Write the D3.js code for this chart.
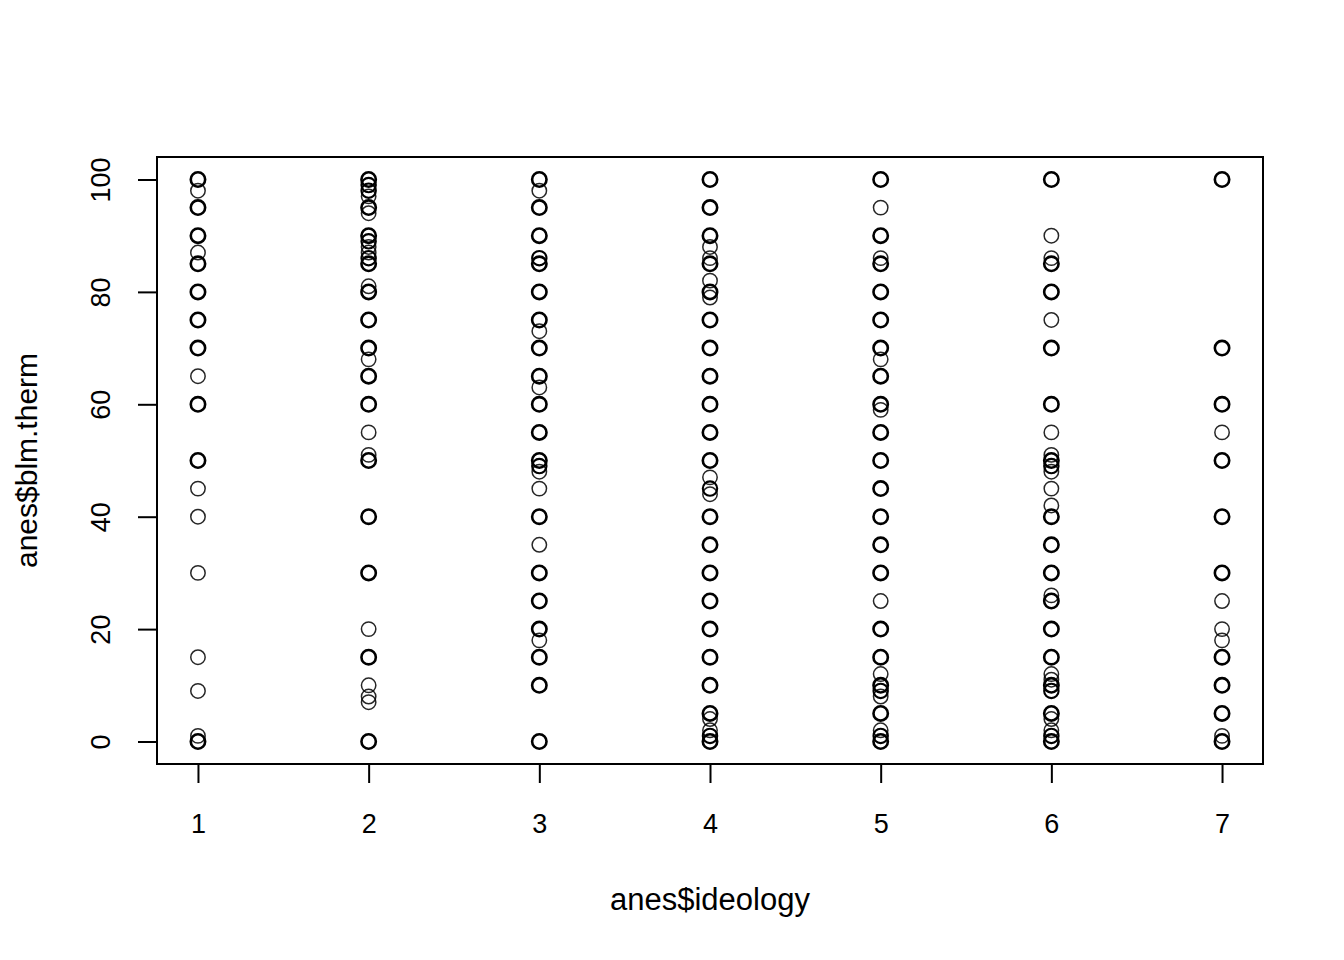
<!DOCTYPE html>
<html>
<head>
<meta charset="utf-8">
<script src="https://cdn.jsdelivr.net/npm/d3@7"></script>
<style>
  body { margin: 0; background: #fff; }
  text { font-family: "Liberation Sans", Arial, Helvetica, sans-serif; fill: #000; }
</style>
</head>
<body>
<div id="chart"></div>
<script>
// blm.therm values at each ideology level (repeats = overplotted points)
var ideologyLevels = [1, 2, 3, 4, 5, 6, 7];
var therm1 = [100,100,100, 98, 95,95,95, 90,90,90, 87, 85,85,85, 80,80,80, 75,75,75, 70,70,70, 65, 60,60,60,
              50,50,50, 45, 40, 30, 15, 9, 1, 0,0,0];
var therm2 = [100,100,100, 99,99, 98,98, 97, 95,95,95, 94, 90,90,90, 89,89, 88, 87, 86,86, 85,85,85, 81, 80,80,80,
              75,75,75, 70,70,70, 68, 65,65,65, 60,60,60, 55, 51, 50,50,50, 40,40,40, 30,30,30, 20, 15,15,15,
              10, 8, 7, 0,0,0];
var therm3 = [100,100,100, 98, 95,95,95, 90,90,90, 86,86, 85,85,85, 80,80,80, 75,75,75, 73, 70,70,70, 65,65,65, 63,
              60,60,60, 55,55,55, 50,50,50, 49,49, 48, 45, 40,40,40, 35, 30,30,30, 25,25,25, 20,20,20, 18,
              15,15,15, 10,10,10, 0,0,0];
var therm4 = [100,100,100, 95,95,95, 90,90,90, 88, 86, 85,85,85, 82, 80,80,80, 79, 75,75,75, 70,70,70, 65,65,65,
              60,60,60, 55,55,55, 50,50,50, 47, 45,45, 44, 40,40,40, 35,35,35, 30,30,30, 25,25,25, 20,20,20,
              15,15,15, 10,10,10, 5,5,5, 4, 2, 1,1, 0,0,0];
var therm5 = [100,100,100, 95, 90,90,90, 86, 85,85,85, 80,80,80, 75,75,75, 70,70,70, 68, 65,65,65, 60,60,60, 59,
              55,55,55, 50,50,50, 45,45,45, 40,40,40, 35,35,35, 30,30,30, 25, 20,20,20, 15,15,15, 12,
              10,10,10, 9,9, 8, 5,5,5, 2, 1,1, 0,0,0];
var therm6 = [100,100,100, 90, 86, 85,85,85, 80,80,80, 75, 70,70,70, 60,60,60, 55, 51, 50,50,50, 49,49, 48, 45, 42,
              40,40,40, 35,35,35, 30,30,30, 26, 25,25,25, 20,20,20, 15,15,15, 12, 11, 10,10,10, 9,9,
              5,5,5, 4, 2, 1,1, 0,0,0];
var therm7 = [100,100,100, 70,70,70, 60,60,60, 55, 50,50,50, 40,40,40, 30,30,30, 25, 20, 18, 15,15,15,
              10,10,10, 5,5,5, 1, 0,0,0];
var yTicks = [0, 20, 40, 60, 80, 100];
var xLabel = "anes$ideology";
var yLabel = "anes$blm.therm";

var width = 1344, height = 960;
var plotL = 157, plotR = 1263, plotT = 157, plotB = 764;

var thermByLevel = [therm1, therm2, therm3, therm4, therm5, therm6, therm7];
var points = [];
ideologyLevels.forEach(function(lv, i) {
    // overplotted points look heavier in the original, so count them
    var counts = d3.rollup(thermByLevel[i], function(v) { return v.length; }, function(d) { return d; });
    counts.forEach(function(n, v) { points.push({ x: lv, y: v, n: n }); });
});

var svg = d3.select("#chart").append("svg")
    .attr("width", width)
    .attr("height", height);

// R style: 4% padding around data range
var x = d3.scaleLinear().domain([0.76, 7.24]).range([plotL, plotR]);
var y = d3.scaleLinear().domain([-4, 104]).range([plotB, plotT]);

svg.append("g").selectAll("circle")
    .data(points)
    .enter().append("circle")
    .attr("cx", function(d) { return x(d.x); })
    .attr("cy", function(d) { return y(d.y); })
    .attr("r", 7.2)
    .style("fill", "none")
    .style("stroke", "#000")
    .style("stroke-opacity", function(d) { return d.n > 1 ? 1 : 0.85; })
    .style("stroke-width", function(d) { return d.n >= 3 ? 2.6 : (d.n == 2 ? 2.1 : 1.5); });

// box
svg.append("rect")
    .attr("x", plotL)
    .attr("y", plotT)
    .attr("width", plotR - plotL)
    .attr("height", plotB - plotT)
    .style("fill", "none")
    .style("stroke", "#000")
    .style("stroke-width", 2);

var xAxis = svg.append("g")
    .attr("transform", "translate(0," + plotB + ")")
    .call(d3.axisBottom(x).tickValues(ideologyLevels).tickSize(19).tickPadding(0).tickFormat(d3.format("d")));
xAxis.select(".domain")
    .attr("d", "M" + x(1) + ",0H" + x(7));
xAxis.selectAll("line, path").style("stroke", "#000").style("stroke-width", 2);
xAxis.selectAll("text")
    .attr("y", 69)
    .attr("dy", null)
    .style("font-size", "27px");

var yAxis = svg.append("g")
    .attr("transform", "translate(" + plotL + ",0)")
    .call(d3.axisLeft(y).tickValues(yTicks).tickSize(19));
yAxis.select(".domain")
    .attr("d", "M0," + y(0) + "V" + y(100));
yAxis.selectAll("line, path").style("stroke", "#000").style("stroke-width", 2);
yAxis.selectAll("text")
    .attr("x", null)
    .attr("dy", null)
    .attr("transform", "translate(-47,0) rotate(-90)")
    .attr("text-anchor", "middle")
    .style("font-size", "27px");

svg.append("text")
    .attr("x", (plotL + plotR) / 2)
    .attr("y", 910)
    .attr("text-anchor", "middle")
    .style("font-size", "31px")
    .text(xLabel);

svg.append("text")
    .attr("transform", "translate(37," + ((plotT + plotB) / 2) + ") rotate(-90)")
    .attr("text-anchor", "middle")
    .style("font-size", "30px")
    .text(yLabel);
</script>
</body>
</html>
